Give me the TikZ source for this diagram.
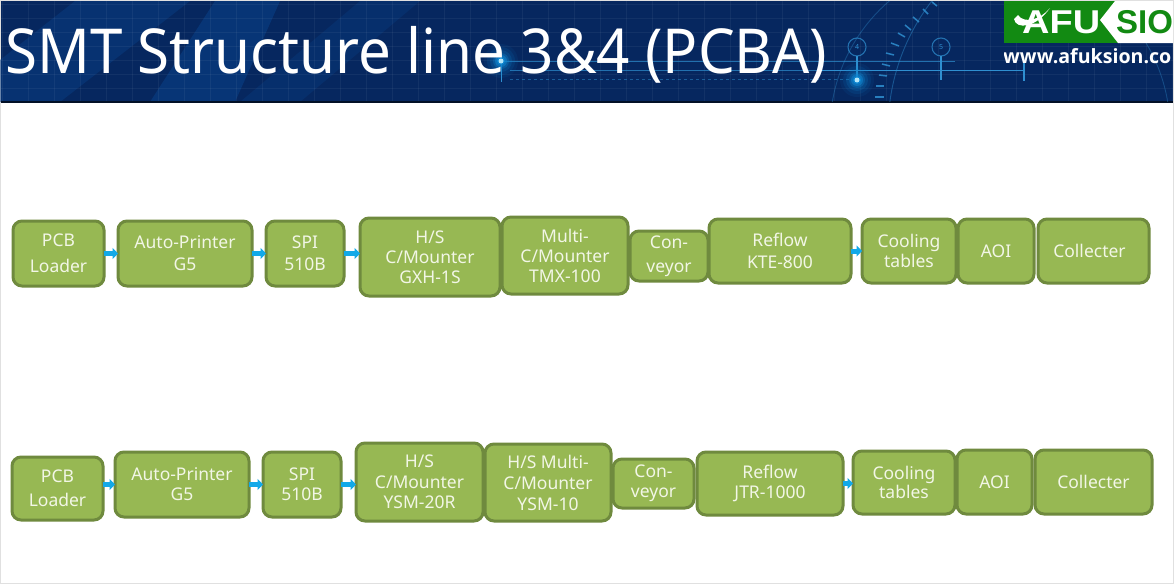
\documentclass[tikz,border=0pt]{standalone}
\usepackage{fontspec}
\setmainfont{Noto Sans}
\newfontfamily\logofont{Liberation Sans}
\newfontfamily\urlfont{Open Sans}
\usetikzlibrary{arrows.meta,calc}
\definecolor{boxfill}{HTML}{97B853}
\definecolor{boxedge}{HTML}{6F8A3E}
\definecolor{boxtext}{HTML}{F2F6E6}
\definecolor{flowblue}{HTML}{12A9E8}
\definecolor{navy}{HTML}{06275F}
\definecolor{navyb}{HTML}{083C80}
\definecolor{linecyan}{HTML}{2F8FD0}
\definecolor{logogreen}{HTML}{128A12}
\tikzset{
 x=1pt,y=-1pt,
 pbox/.style={draw=boxedge,fill=boxfill,line width=3pt,rounded corners=9pt,text=boxtext,align=center,inner sep=0pt,anchor=center},
 flow/.style={draw=flowblue,line width=5pt,-{Triangle[length=5.5pt,width=11pt]},shorten <=-1.5pt,shorten >=-1.5pt},
 deco/.style={draw=linecyan,line width=0.9pt},
 gridl/.style={draw=white,opacity=0.05,line width=0.5pt},
}
\newcommand{\pb}[7][22]{\node[pbox,minimum width=#4-#3 pt,minimum height=#6-#5 pt,font=\fontsize{17.5}{#1}\selectfont] (#2) at ({(#3+#4)/2},{(#5+#6)/2}) {#7};}
\begin{document}
\begin{tikzpicture}
\useasboundingbox (0,0) rectangle (1174,584);
\fill[white] (0,0) rectangle (1174,584);
\draw[draw=black!12,line width=1pt] (0.5,0.5) rectangle (1173.5,583.5);
% banner
\fill[navy] (1,1) rectangle (1173,102);
\fill[navyb,opacity=.55] (0,60) -- (75,1) -- (190,1) -- (60,102) -- (0,102) -- cycle;
\fill[navyb,opacity=.7] (150,102) -- (215,1) -- (280,1) -- (235,102) -- cycle;
\fill[navyb,opacity=.4] (240,102) -- (360,1) -- (420,1) -- (300,102) -- cycle;
\foreach \i in {0,...,45} {\draw[gridl] ({\i*26+2},1) -- ({\i*26+2},102);}
\foreach \i in {0,...,7} {\draw[gridl] (1,{\i*14+4}) -- (1173,{\i*14+4});}
\fill[black!60!navy] (1,101) rectangle (1173,102.5);
% circuit lines
\draw[deco,opacity=.7] (501,61) -- (955,61);
\draw[deco] (820,70) -- (1024,70);
\draw[deco,opacity=.7] (510,70) -- (820,70);
\draw[deco,opacity=.5,dashed] (510,79) -- (850,79);
\draw[deco,line width=1.3pt] (857,56) -- (857,79);
\draw[deco,line width=1.3pt] (941,56) -- (941,80);
\draw[deco,line width=1.3pt] (1024,62) -- (1024,81);
\draw[deco] (501,61) -- (501,82);
\draw[deco,line width=1.1pt,opacity=.7] (857,47) circle (9);
\draw[deco,line width=1.1pt,opacity=.7] (941,47) circle (9);
\node[font=\fontsize{7}{8}\selectfont,text=linecyan] (n4) at (857,47) {4};
\node[font=\fontsize{7}{8}\selectfont,text=linecyan] (n5) at (941,47) {5};
% arcs and ticks
\begin{scope}
\clip (1,1) rectangle (1173,101);
\draw[deco,opacity=.45] (1100,130) circle (212);
\draw[deco,opacity=.35] (1000,130) circle (170);
\foreach \px/\py/\qx/\qy in {875/97/884/97, 876/86/884/86, 879/75/887/76, 882/64/890/66, 886/53/894/55, 891/43/899/46, 898/33/905/37, 905/25/911/30, 913/17/919/22, 923/9/928/14, 932/2/937/6} {\draw[draw=linecyan,line width=1.5pt,opacity=.85] (\px,\py) -- (\qx,\qy);}
\end{scope}
% glows
\foreach \r/\o in {17/.08,14/.12,11/.18,8/.3,6/.5,4/.9} {
 \fill[cyan!70!blue,opacity=\o] (501,61) circle (\r);
 \fill[cyan!70!blue,opacity=\o] (857,80) circle (\r);
}
\fill[cyan!30!white] (501,61) circle (2.5);
\fill[cyan!30!white] (857,80) circle (2.5);
% title
\node[anchor=base west,inner sep=0pt,text=white,font=\fontsize{62}{66}\selectfont,xscale=0.94,transform shape] (title) at (5,73) {SMT Structure line 3\&4 (PCBA)};
% logo
\fill[logogreen] (1004,1) rectangle (1173,43);
\fill[white] (1115,1) -- (1100,20) -- (1118,43) -- (1173,43) -- (1173,1) -- cycle;
\fill[white] (1014,19) .. controls (1016,30) and (1036,28) .. (1050,8) .. controls (1040,20) and (1024,24) .. (1018,15) -- cycle;
\begin{scope}
\clip (1004,1) rectangle (1172,102);
\node[anchor=base west,inner sep=0pt,text=white,font=\logofont\fontsize{33}{34}\selectfont\bfseries,xscale=1.15,transform shape] (logoa) at (1022,33) {AFU};
\node[anchor=base west,inner sep=0pt,text=logogreen,font=\logofont\fontsize{33}{34}\selectfont\bfseries] (logob) at (1116,33) {SIO};
\node[anchor=base west,inner sep=0pt,text=white,font=\urlfont\fontsize{19.6}{20}\selectfont\bfseries] (url) at (1003,63) {www.afuksion.co};
\end{scope}
% line 1
\pb[26]{a1}{13}{104}{221}{286}{PCB\\Loader}
\pb[22]{a2}{118}{252}{221}{286}{Auto-Printer\\G5}
\pb[22]{a3}{266}{344}{221}{286}{SPI\\510B}
\pb[20]{a4}{360}{500}{218}{296}{H/S\\C/Mounter\\GXH-1S}
\pb[20]{a5}{502}{628}{217}{294}{Multi-\\C/Mounter\\TMX-100}
\pb[24]{a6}{630}{708}{231}{281}{Con-\\veyor}
\pb[22]{a7}{709}{851}{219}{283}{Reflow\\KTE-800}
\pb[20]{a8}{862}{956}{219}{283}{Cooling\\tables}
\pb{a9}{958}{1034}{219}{283}{AOI}
\pb{a10}{1038}{1149}{219}{283}{\hspace*{-8pt}Collecter}
% line 2
\pb[24]{b1}{12}{103}{457}{520}{PCB\\Loader}
\pb[20]{b2}{115}{249}{452}{517}{Auto-Printer\\G5}
\pb[20]{b3}{263}{341}{452}{517}{SPI\\510B}
\pb[20.5]{b4}{356}{483}{443}{521}{H/S\\C/Mounter\\YSM-20R}
\pb[21]{b5}{485}{611}{444}{521}{H/S Multi-\\C/Mounter\\YSM-10}
\pb[20]{b6}{613}{694}{459}{508}{Con-\\veyor}
\pb[20]{b7}{697}{843}{452}{515}{Reflow\\JTR-1000}
\pb[19.5]{b8}{853}{955}{451}{514}{Cooling\\tables}
\pb{b9}{957}{1032}{450}{514}{AOI}
\pb{b10}{1035}{1152}{450}{514}{Collecter}
% connectors
\draw[flow] (a1.east) -- (a2.west);
\draw[flow] (a2.east) -- (a3.west);
\draw[flow] (a3.east) -- (a3.east -| a4.west);
\draw[flow] (a7.east) -- (a8.west);
\draw[flow] (b1.east |- b2.west) -- (b2.west);
\draw[flow] (b2.east) -- (b3.west);
\draw[flow] (b3.east) -- (b3.east -| b4.west);
\draw[flow] (b7.east) -- (b7.east -| b8.west);
\end{tikzpicture}
\end{document}
